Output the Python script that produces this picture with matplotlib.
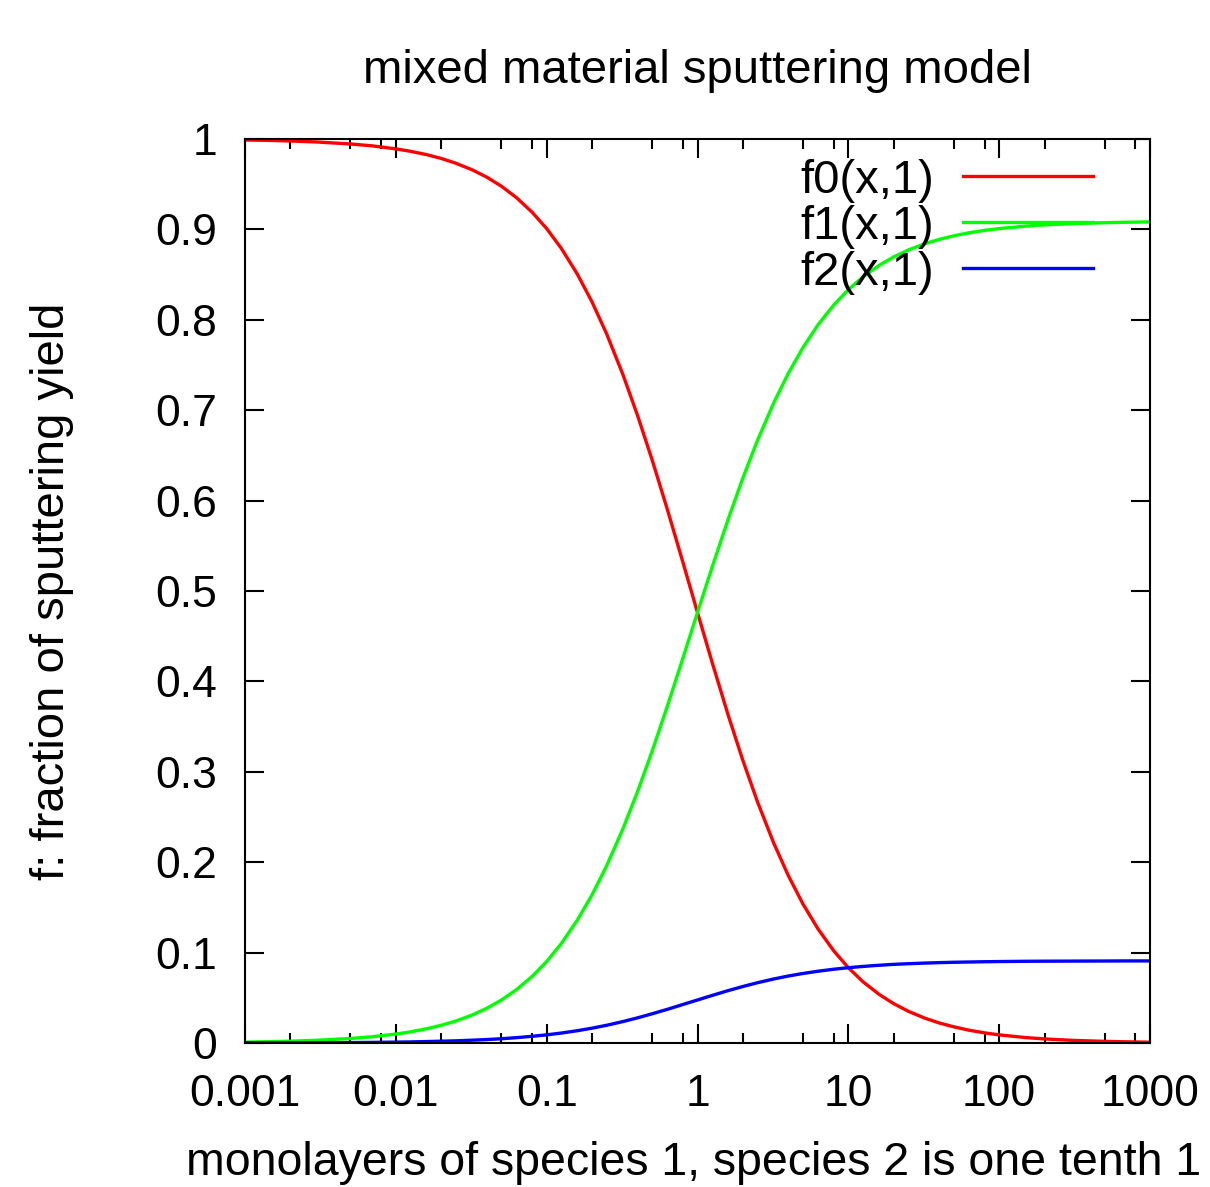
import matplotlib
matplotlib.use("Agg")
import matplotlib.pyplot as plt
from matplotlib.ticker import FixedLocator, NullFormatter

plt.rcParams['font.family'] = ['Liberation Sans', 'DejaVu Sans']

# values
x = [0.001, 0.0015, 0.002, 0.003, 0.005, 0.007,
     0.01, 0.0125, 0.016, 0.02, 0.025, 0.032, 0.04, 0.05, 0.063, 0.08,
     0.1, 0.125, 0.16, 0.2, 0.25, 0.32, 0.4, 0.5, 0.63, 0.8,
     1, 1.25, 1.6, 2, 2.5, 3.2, 4, 5, 6.3, 8,
     10, 12.5, 16, 20, 25, 32, 40, 50, 63, 80,
     100, 150, 200, 300, 500, 700, 1000]
f0 = [0.9989, 0.9984, 0.9978, 0.9967, 0.9945, 0.9924,
      0.9891, 0.9864, 0.9827, 0.9785, 0.9732, 0.9660, 0.9579, 0.9479, 0.9352, 0.9191,
      0.9009, 0.8791, 0.8503, 0.8197, 0.7843, 0.7396, 0.6944, 0.6452, 0.5907, 0.5319,
      0.4762, 0.4211, 0.3623, 0.3125, 0.2667, 0.2212, 0.1852, 0.1538, 0.1261, 0.1020,
      0.0833, 0.0678, 0.0538, 0.0435, 0.0351, 0.0276, 0.0222, 0.0179, 0.0142, 0.0112,
      0.0090, 0.0060, 0.0045, 0.0030, 0.0018, 0.0013, 0.0009]
f1 = [0.0010, 0.0015, 0.0020, 0.0030, 0.0050, 0.0069,
      0.0099, 0.0123, 0.0157, 0.0196, 0.0243, 0.0309, 0.0383, 0.0474, 0.0589, 0.0735,
      0.0901, 0.1099, 0.1361, 0.1639, 0.1961, 0.2367, 0.2778, 0.3226, 0.3721, 0.4255,
      0.4762, 0.5263, 0.5797, 0.6250, 0.6667, 0.7080, 0.7407, 0.7692, 0.7945, 0.8163,
      0.8333, 0.8475, 0.8602, 0.8696, 0.8772, 0.8840, 0.8889, 0.8929, 0.8962, 0.8989,
      0.9009, 0.9036, 0.9050, 0.9063, 0.9074, 0.9079, 0.9083]
f2 = [0.0001, 0.00015, 0.0002, 0.0003, 0.0005, 0.0007,
      0.0010, 0.0012, 0.0016, 0.0020, 0.0024, 0.0031, 0.0038, 0.0047, 0.0059, 0.0074,
      0.0090, 0.0110, 0.0136, 0.0164, 0.0196, 0.0237, 0.0278, 0.0323, 0.0372, 0.0426,
      0.0476, 0.0526, 0.0580, 0.0625, 0.0667, 0.0708, 0.0741, 0.0769, 0.0794, 0.0816,
      0.0833, 0.0847, 0.0860, 0.0870, 0.0877, 0.0884, 0.0889, 0.0893, 0.0896, 0.0899,
      0.0901, 0.0904, 0.0905, 0.0906, 0.0907, 0.0908, 0.0908]

labels = ["f0(x,1)", "f1(x,1)", "f2(x,1)"]
colors = ["#ff0000", "#00ff00", "#0000ff"]

xticks = [0.001, 0.01, 0.1, 1, 10, 100, 1000]
xticklabels = ["0.001", "0.01", "0.1", "1", "10", "100", "1000"]
yticks = [0, 0.1, 0.2, 0.3, 0.4, 0.5, 0.6, 0.7, 0.8, 0.9, 1]
yticklabels = ["0", "0.1", "0.2", "0.3", "0.4", "0.5", "0.6", "0.7",
               "0.8", "0.9", "1"]

W, H = 1210, 1187
fig = plt.figure(figsize=(W / 100, H / 100), dpi=100)
ax = fig.add_axes([245 / W, 1 - 1043 / H, (1150 - 245) / W, (1043 - 139) / H])

for ys, lab, c in zip([f0, f1, f2], labels, colors):
    ax.plot(x, ys, color=c, lw=2.4, label=lab)

ax.set_xscale("log")
ax.set_xlim(0.001, 1000)
ax.set_ylim(0, 1)

ax.set_xticks(xticks)
ax.set_xticklabels(xticklabels)
# gnuplot puts minor log tics at 2, 5, 8
minors = [m * 10.0 ** e for e in range(-3, 3) for m in (2, 5, 8)]
ax.xaxis.set_minor_locator(FixedLocator(minors))
ax.xaxis.set_minor_formatter(NullFormatter())
ax.set_yticks(yticks)
ax.set_yticklabels(yticklabels)

fs_tick = 32
fs = 34
ax.tick_params(which="major", direction="in", length=14, width=1.5,
               top=True, right=True, labelsize=fs_tick)
ax.tick_params(which="minor", direction="in", length=7, width=1.5,
               top=True, right=True)
ax.tick_params(axis="y", pad=20)
ax.tick_params(axis="x", pad=22)
for s in ax.spines.values():
    s.set_linewidth(1.5)

ax.set_title("mixed material sputtering model", fontsize=fs, pad=40)
fig.text(694 / W, 1 - 1175 / H, "monolayers of species 1, species 2 is one tenth 1",
         fontsize=33.5, ha="center", va="baseline")
fig.text(52 / W, 1 - 591 / H, "f: fraction of sputtering yield",
         fontsize=fs, ha="center", va="center", rotation=90)

ax.legend(loc="upper right", bbox_to_anchor=(0.937, 0.978), frameon=False,
          markerfirst=False, fontsize=fs, handlelength=2.75, handletextpad=0.62,
          labelspacing=0.04, borderaxespad=0, borderpad=0)

fig.savefig("out.png", dpi=100)
